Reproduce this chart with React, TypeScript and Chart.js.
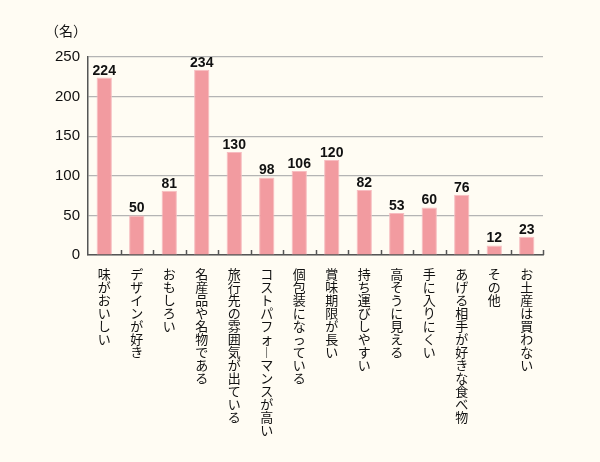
import React, { useEffect, useRef } from "react";
import { Chart, registerables } from "chart.js";

Chart.register(...registerables);

const categories: string[] = [
  "味がおいしい",
  "デザインが好き",
  "おもしろい",
  "名産品や名物である",
  "旅行先の雰囲気が出ている",
  "コストパフォ︱マンスが高い",
  "個包装になっている",
  "賞味期限が長い",
  "持ち運びしやすい",
  "高そうに見える",
  "手に入りにくい",
  "あげる相手が好きな食べ物",
  "その他",
  "お土産は買わない",
];

const values: number[] = [224, 50, 81, 234, 130, 98, 106, 120, 82, 53, 60, 76, 12, 23];

const yTicks: number[] = [0, 50, 100, 150, 200, 250];
const yUnit = "（名）";

const BG = "#fffcf3";

export default function App() {
  const ref = useRef<HTMLCanvasElement | null>(null);

  useEffect(() => {
    if (!ref.current) return;
    const labels = categories.map((c) => Array.from(c));

    const extras = {
      id: "extras",
      beforeDraw(chart: any) {
        const { ctx, width, height } = chart;
        ctx.save();
        ctx.fillStyle = BG;
        ctx.fillRect(0, 0, width, height);
        ctx.restore();
      },
      afterDatasetsDraw(chart: any) {
        const { ctx, chartArea } = chart;
        const meta = chart.getDatasetMeta(0);
        ctx.save();
        ctx.fillStyle = "#111";
        ctx.font = "bold 14px 'Liberation Sans', Arial, sans-serif";
        ctx.textAlign = "center";
        ctx.textBaseline = "alphabetic";
        meta.data.forEach((el: any, i: number) => {
          ctx.fillText(String(values[i]), el.x, el.y - 3);
        });
        ctx.strokeStyle = "#555";
        ctx.lineWidth = 1.5;
        const n = categories.length;
        const w = (chartArea.right - chartArea.left) / n;
        for (let k = 1; k <= n; k++) {
          const x = Math.round(chartArea.left + w * k) + 0.5;
          ctx.beginPath();
          ctx.moveTo(x, chartArea.bottom);
          ctx.lineTo(x, chartArea.bottom - 5);
          ctx.stroke();
        }
        ctx.fillStyle = "#111";
        ctx.font = "14px 'Noto Sans CJK JP', sans-serif";
        ctx.textAlign = "center";
        ctx.textBaseline = "middle";
        ctx.fillText(yUnit, 66, 31);
        ctx.restore();
      },
    };

    const chart = new Chart(ref.current, {
      type: "bar",
      data: {
        labels,
        datasets: [
          {
            data: values,
            backgroundColor: "#f29ba0",
            borderColor: "#f7bcc0",
            borderWidth: 1,
            barPercentage: 0.47,
            categoryPercentage: 1.0,
          },
        ],
      },
      options: {
        animation: false,
        responsive: true,
        maintainAspectRatio: false,
        layout: { padding: { left: 0, top: 57, right: 57, bottom: 0 } },
        plugins: {
          legend: { display: false },
          tooltip: { enabled: false },
        },
        scales: {
          x: {
            grid: { display: false },
            border: { display: true, color: "#555", width: 1.5 },
            ticks: {
              maxRotation: 0,
              minRotation: 0,
              autoSkip: false,
              padding: 5,
              color: "#111",
              font: { family: "'Noto Sans CJK JP', sans-serif", size: 13, lineHeight: 1.0 },
            },
            afterFit(scale: any) {
              scale.height = 207;
            },
          },
          y: {
            min: 0,
            max: 250,
            afterBuildTicks(scale: any) {
              scale.ticks = yTicks.map((v) => ({ value: v }));
            },
            grid: { color: "#b4b4b4", lineWidth: 1.2, drawTicks: false },
            border: { display: true, color: "#555", width: 1.5 },
            ticks: {
              padding: 8,
              color: "#111",
              font: { family: "'Liberation Sans', Arial, sans-serif", size: 15 },
            },
            afterFit(scale: any) {
              scale.width = 88;
            },
          },
        },
      },
      plugins: [extras],
    });
    return () => chart.destroy();
  }, []);

  return (
    <div style={{ position: "fixed", left: 0, top: 0, width: 600, height: 462, background: BG }}>
      <canvas ref={ref} />
    </div>
  );
}
